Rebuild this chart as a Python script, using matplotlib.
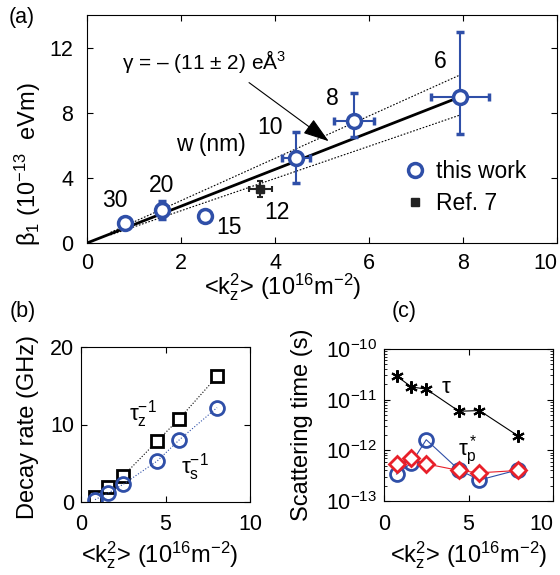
import numpy as np
import matplotlib
matplotlib.use("Agg")
import matplotlib.pyplot as plt

plt.rcParams['font.family'] = ['Liberation Sans', 'DejaVu Sans']
plt.rcParams['mathtext.fontset'] = 'custom'
plt.rcParams['mathtext.rm'] = 'Liberation Sans'
plt.rcParams['mathtext.it'] = 'Liberation Sans'
plt.rcParams['mathtext.default'] = 'regular'
plt.rcParams['font.size'] = 15.5

BLUE = '#2f4fa8'
RED = '#e8202a'

# --- (a) beta_1 vs <k_z^2> ---
kz2_this = [0.81, 1.60, 2.51, 4.45, 5.68, 7.93]
beta_this = [1.23, 2.05, 1.64, 5.23, 7.49, 8.98]
beta_err_lo = [0.20, 0.60, 0.30, 1.55, 1.00, 2.30]
beta_err_hi = [0.20, 0.55, 0.30, 1.60, 1.70, 4.00]
kz2_err = [0.00, 0.00, 0.00, 0.30, 0.42, 0.62]
widths = ['30', '20', '15', '12', '10', '8', '6']
width_pos = [(0.59, 2.63), (1.58, 3.55), (3.02, 0.96), (4.05, 1.89),
             (3.90, 7.12), (5.23, 8.90), (7.51, 11.12)]

kz2_ref = [3.69]
beta_ref = [3.32]
kz2_ref_err = [0.25]
beta_ref_err = [0.50]

slope_fit = 1.13
slope_hi = 1.30
slope_lo = 0.99

# --- (b) decay rates ---
kz2_b = [0.83, 1.62, 2.50, 4.52, 5.80, 8.05]
tau_z_inv = [0.65, 1.94, 3.37, 7.90, 10.70, 16.20]
tau_s_inv = [0.30, 1.17, 2.29, 5.31, 7.99, 12.18]

# --- (c) scattering times ---
kz2_c = [0.74, 1.62, 2.50, 4.44, 5.65, 7.91]
tau = [2.95e-11, 1.78e-11, 1.62e-11, 5.9e-12, 6.1e-12, 1.95e-12]
tau_circ = [3.4e-13, 5.6e-13, 1.62e-12, 4.1e-13, 2.6e-13, 4.1e-13]
tau_p = [5.4e-13, 6.9e-13, 5.4e-13, 4.0e-13, 3.6e-13, 4.0e-13]

xlabel = r'<k$_z^2$> (10$^{16}$m$^{-2}$)'
LBL = 17

fig = plt.figure(figsize=(5.6, 5.75), dpi=100)
ax_a = fig.add_axes([87 / 560, 1 - 243 / 575, 470 / 560, 228 / 575])
ax_b = fig.add_axes([81 / 560, 1 - 502 / 575, 169 / 560, 155 / 575])
ax_c = fig.add_axes([384 / 560, 1 - 501 / 575, 169 / 560, 152 / 575])

for ax in (ax_a, ax_b, ax_c):
    ax.tick_params(direction='in', top=True, right=True, length=4, width=0.8)
    ax.tick_params(which='minor', direction='in', top=False, right=True, length=2)
ax_a.tick_params(axis='x', pad=7)
ax_a.tick_params(axis='y', pad=10)
for ax in (ax_b, ax_c):
    ax.tick_params(axis='x', pad=9)
    ax.tick_params(axis='y', pad=5)

# panel a
xf = np.array([0, kz2_this[-1]])
ax_a.plot(xf, slope_fit * xf, color='black', lw=2)
xd = np.array([0.5, kz2_this[-1]])
ax_a.plot(xd, slope_hi * xd, color='black', lw=0.8, ls=(0, (1.5, 1.5)))
ax_a.plot(xd, slope_lo * xd, color='black', lw=0.8, ls=(0, (1.5, 1.5)))
ax_a.errorbar(kz2_this, beta_this, yerr=[beta_err_lo, beta_err_hi], xerr=kz2_err,
              fmt='o', color=BLUE, mfc='white', mec=BLUE, ms=10, mew=2.5,
              elinewidth=1.5, capsize=3, capthick=1.5, label='this work')
ax_a.errorbar(kz2_ref, beta_ref, yerr=beta_ref_err, xerr=kz2_ref_err,
              fmt='s', color='#222222', ms=6, elinewidth=1.5, capsize=2.5,
              capthick=1.5, label='Ref. 7')
for w, (x, y) in zip(widths, width_pos):
    ax_a.text(x, y, w, ha='center', va='center', fontsize=16.5)
ax_a.text(2.64, 6.07, 'w (nm)', ha='center', va='center', fontsize=16.5)
ax_a.text(0.74, 11.14, 'γ = – (11 ± 2) eÅ$^3$', ha='left', va='center', fontsize=15)
ax_a.annotate('', xy=(5.19, 6.15), xytext=(3.40, 9.95),
              arrowprops=dict(arrowstyle='-|>,head_length=0.9,head_width=0.3',
                              color='black', lw=0.8, mutation_scale=18))
ax_a.set_xlim(0, 10)
ax_a.set_ylim(0, 14)
ax_a.set_xticks([0, 2, 4, 6, 8, 10])
ax_a.set_yticks([0, 4, 8, 12])
ax_a.set_xlabel(xlabel, fontsize=LBL, va='center')
ax_a.set_ylabel('β$_1$ (10$^{-13}$  eVm)', fontsize=LBL, va='center')
ax_a.xaxis.set_label_coords(0.417, -0.195)
ax_a.yaxis.set_label_coords(-0.1266, 0.346)
handles, labels = ax_a.get_legend_handles_labels()
hs = [h[0] for h in handles]
ax_a.legend(hs, labels, loc='upper left', bbox_to_anchor=(0.65, 0.405), frameon=False,
            handletextpad=0.3, handlelength=1.2, fontsize=16.5, labelspacing=0.4,
            borderaxespad=0)

# panel b
ax_b.plot(kz2_b, tau_z_inv, color='black', ls=':', lw=0.8, marker='s', ms=8,
          mfc='white', mec='black', mew=2)
ax_b.plot(kz2_b, tau_s_inv, color=BLUE, ls=':', lw=0.8, marker='o', ms=10,
          mfc='none', mec=BLUE, mew=2)
ax_b.text(3.69, 11.4, 'τ$_z^{-1}$', ha='center', va='center', fontsize=16)
ax_b.text(6.75, 4.5, 'τ$_s^{-1}$', ha='center', va='center', fontsize=16)
ax_b.set_xlim(0, 10)
ax_b.set_ylim(0, 20)
ax_b.set_xticks([0, 5, 10])
ax_b.set_yticks([0, 10, 20])
ax_b.set_xlabel(xlabel, fontsize=LBL, va='center')
ax_b.set_ylabel('Decay rate (GHz)', fontsize=LBL, va='center')
ax_b.xaxis.set_label_coords(0.467, -0.342)
ax_b.yaxis.set_label_coords(-0.3136, 0.487)

# panel c
ax_c.plot(kz2_c, tau, color='black', lw=0.8, marker=(6, 2, 0), ms=9, mew=1.5)
ax_c.plot(kz2_c, tau_circ, color=BLUE, lw=0.8, marker='o', ms=10, mfc='none', mec=BLUE, mew=2)
ax_c.plot(kz2_c, tau_p, color=RED, lw=0.8, marker='D', ms=8, mfc='white', mec=RED, mew=2)
ax_c.text(3.66, 1.7e-11, 'τ', ha='center', va='center', fontsize=16)
ax_c.text(4.93, 1.0e-12, 'τ$_p^*$', ha='center', va='center', fontsize=16)
ax_c.set_yscale('log')
ax_c.set_xlim(0, 10)
ax_c.set_ylim(1e-13, 1e-10)
ax_c.set_xticks([0, 5, 10])
ax_c.set_xlabel(xlabel, fontsize=LBL, va='center')
ax_c.set_ylabel('Scattering time (s)', fontsize=LBL, va='center')
ax_c.xaxis.set_label_coords(0.503, -0.355)
ax_c.yaxis.set_label_coords(-0.485, 0.5)

fig.text(9 / 560, 1 - 17 / 575, '(a)', ha='left', va='center', fontsize=15.5)
fig.text(10 / 560, 1 - 311 / 575, '(b)', ha='left', va='center', fontsize=15.5)
fig.text(392 / 560, 1 - 311 / 575, '(c)', ha='left', va='center', fontsize=15.5)

# shift the last x tick label left, as in the original layout
fig.canvas.draw()
for ax in (ax_a, ax_c):
    ax.get_xticklabels()[-1].set_horizontalalignment('right')

fig.savefig('out.png', dpi=100)
